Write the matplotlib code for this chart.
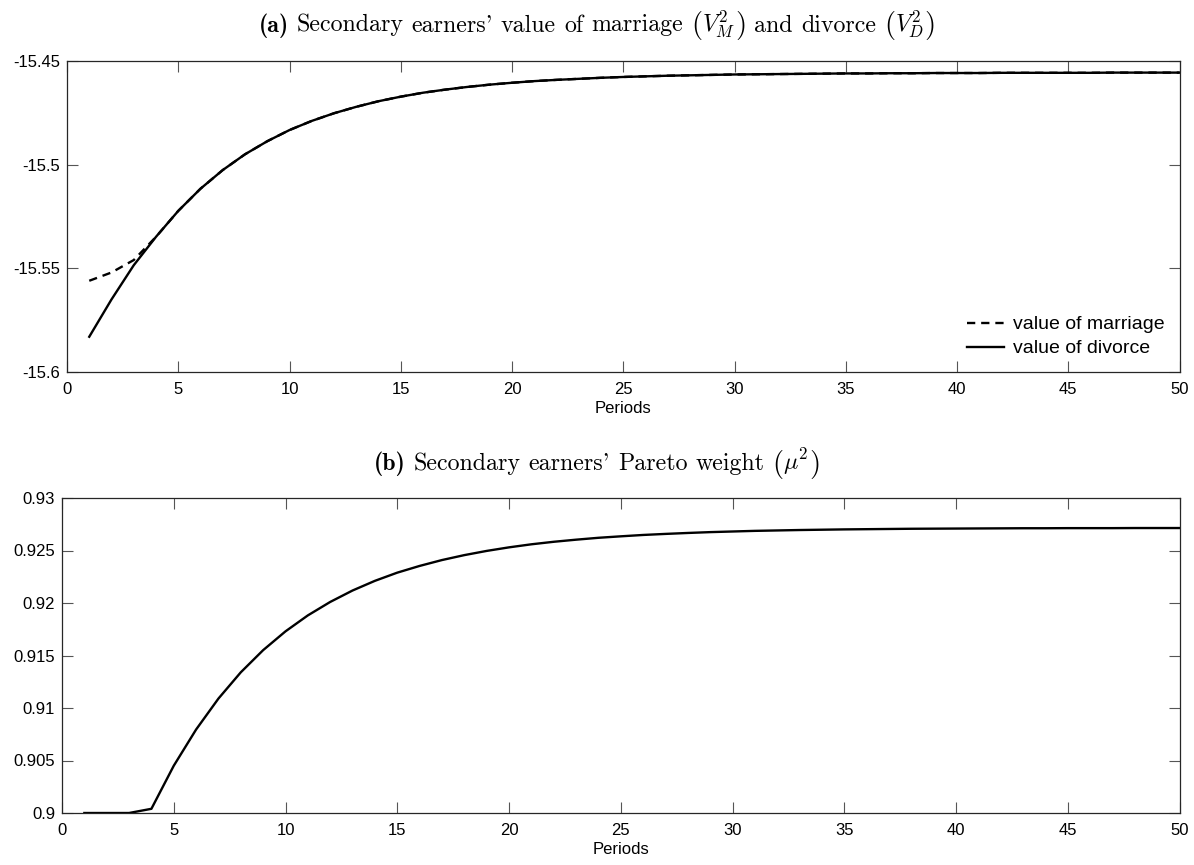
import matplotlib
matplotlib.use("Agg")
import matplotlib.pyplot as plt

plt.rcParams['axes.unicode_minus'] = False
plt.rcParams['mathtext.fontset'] = 'cm'

periods = list(range(1, 51))

value_divorce = [
    -15.5830, -15.5650, -15.5485, -15.5348, -15.5223, -15.5116, -15.5026, -15.4950, -15.4887, -15.4833,
    -15.4789, -15.4752, -15.4721, -15.4694, -15.4672, -15.4653, -15.4638, -15.4625, -15.4614, -15.4605,
    -15.4597, -15.4591, -15.4586, -15.4581, -15.4577, -15.4574, -15.4571, -15.4569, -15.4567, -15.4565,
    -15.4564, -15.4563, -15.4562, -15.4561, -15.4560, -15.4560, -15.4559, -15.4559, -15.4558, -15.4558,
    -15.4558, -15.4557, -15.4557, -15.4557, -15.4557, -15.4557, -15.4556, -15.4556, -15.4556, -15.4556,
]
value_marriage_early = [-15.5560, -15.5520, -15.5460]
value_marriage = value_marriage_early + value_divorce[3:]

pareto_weight = [
    0.90000, 0.90000, 0.90000, 0.90040, 0.90450, 0.90795, 0.91090, 0.91340, 0.91551, 0.91730,
    0.91882, 0.92010, 0.92119, 0.92211, 0.92289, 0.92353, 0.92409, 0.92456, 0.92496, 0.92530,
    0.92559, 0.92583, 0.92603, 0.92621, 0.92635, 0.92648, 0.92658, 0.92667, 0.92675, 0.92681,
    0.92687, 0.92691, 0.92695, 0.92698, 0.92701, 0.92703, 0.92705, 0.92707, 0.92708, 0.92709,
    0.92710, 0.92711, 0.92712, 0.92712, 0.92713, 0.92713, 0.92713, 0.92714, 0.92714, 0.92714,
]

xticks = [0, 5, 10, 15, 20, 25, 30, 35, 40, 45, 50]
yticks_a = [-15.6, -15.55, -15.5, -15.45]
yticklabels_a = ["-15.6", "-15.55", "-15.5", "-15.45"]
yticks_b = [0.9, 0.905, 0.91, 0.915, 0.92, 0.925, 0.93]
yticklabels_b = ["0.9", "0.905", "0.91", "0.915", "0.92", "0.925", "0.93"]

axc = '#262626'
sans = ['Liberation Sans', 'DejaVu Sans']
W, H = 1194, 865

fig = plt.figure(figsize=(W / 100, H / 100), dpi=100)
ax1 = fig.add_axes([67 / W, 1 - 372 / H, (1179.5 - 67) / W, (372 - 61) / H])
ax2 = fig.add_axes([62 / W, 1 - 813 / H, (1179.5 - 62) / W, (813 - 498) / H])


def style(ax, yt, ytl, lpad):
    ax.set_xlim(0, 50)
    ax.set_xticks(xticks)
    ax.set_xticklabels([str(t) for t in xticks], fontfamily=sans, fontsize=12, color='black')
    ax.set_yticks(yt)
    ax.set_yticklabels(ytl, fontfamily=sans, fontsize=12, color='black')
    ax.set_ylim(yt[0], yt[-1])
    ax.tick_params(axis='x', direction='in', length=8, width=0.8, color='#555555',
                   top=True, pad=7)
    ax.tick_params(axis='y', direction='in', length=8, width=0.8, color='#555555',
                   right=True, pad=5)
    for s in ax.spines.values():
        s.set_linewidth(0.9)
        s.set_color(axc)
    ax.set_xlabel("Periods", fontfamily=sans, fontsize=12, labelpad=lpad)


ax1.plot(periods, value_divorce, color='black', lw=1.7, label='value of divorce')
ax1.plot(periods, value_marriage, color='black', lw=1.7, linestyle=(0, (3.5, 2.5)),
         label='value of marriage')
style(ax1, yticks_a, yticklabels_a, 3)
h, l = ax1.get_legend_handles_labels()
ax1.legend([h[1], h[0]], [l[1], l[0]], loc='lower right', frameon=False,
           prop={'family': sans, 'size': 14}, handlelength=1.9, handletextpad=0.5,
           labelspacing=0.33, borderaxespad=0.35)

ax2.plot(periods, pareto_weight, color='black', lw=1.7)
style(ax2, yticks_b, yticklabels_b, 3)

# ---- titles built from pieces (so the parentheses can be enlarged) ----
BIG = 1.2
PX = 100 / 72.0
SP = 0.333
renderer = fig.canvas.get_renderer()

pieces_a = [
    ('bold', "(a)"), ('gap', SP),
    ('n', "Secondary"), ('gap', SP), ('n', "earners'"), ('gap', SP), ('n', "value"), ('gap', SP),
    ('n', "of"), ('gap', SP), ('n', "marriage"), ('gap', SP),
    ('big', "("), ('n', r"$V_M^2$"), ('big', ")"), ('gap', SP),
    ('n', "and"), ('gap', SP), ('n', "divorce"), ('gap', SP),
    ('big', "("), ('n', r"$V_D^2$"), ('big', ")"),
]
pieces_b = [
    ('bold', "(b)"), ('gap', SP),
    ('n', "Secondary"), ('gap', SP), ('n', "earners'"), ('gap', SP), ('n', "Pareto"), ('gap', SP),
    ('n', "weight"), ('gap', SP),
    ('big', "("), ('n', r"$\mu^2$"), ('big', ")"),
]


def make_title(baseline_px, pieces, F):
    items = []
    for kind, s in pieces:
        if kind == 'gap':
            items.append((None, s * F * PX, 0))
            continue
        size = F * BIG if kind == 'big' else F
        dy = -0.06 * F * BIG * PX if kind == 'big' else 0.0
        fam = 'cmb10' if kind == 'bold' else 'cmr10'
        t = fig.text(0, 1 - (baseline_px - dy) / H, s, fontsize=size, fontfamily=fam,
                     ha='left', va='baseline')
        items.append((t, t.get_window_extent(renderer).width, dy))
    return items


def width(items):
    return sum(w for _, w, _ in items)


def place(items):
    x = W / 2 - width(items) / 2
    for t, w, _ in items:
        if t is not None:
            t.set_x(x / W)
        x += w


# measure at a reference size, then scale to the title widths of the reference
ta = make_title(31.5, pieces_a, 10)
tb = make_title(470, pieces_b, 10)
F = 10 * (684 + 444) / (width(ta) + width(tb))
for t, _, _ in ta + tb:
    if t is not None:
        t.remove()
ta = make_title(31.5, pieces_a, F)
tb = make_title(470, pieces_b, F)
place(ta)
place(tb)

fig.savefig("out.png", dpi=100)
